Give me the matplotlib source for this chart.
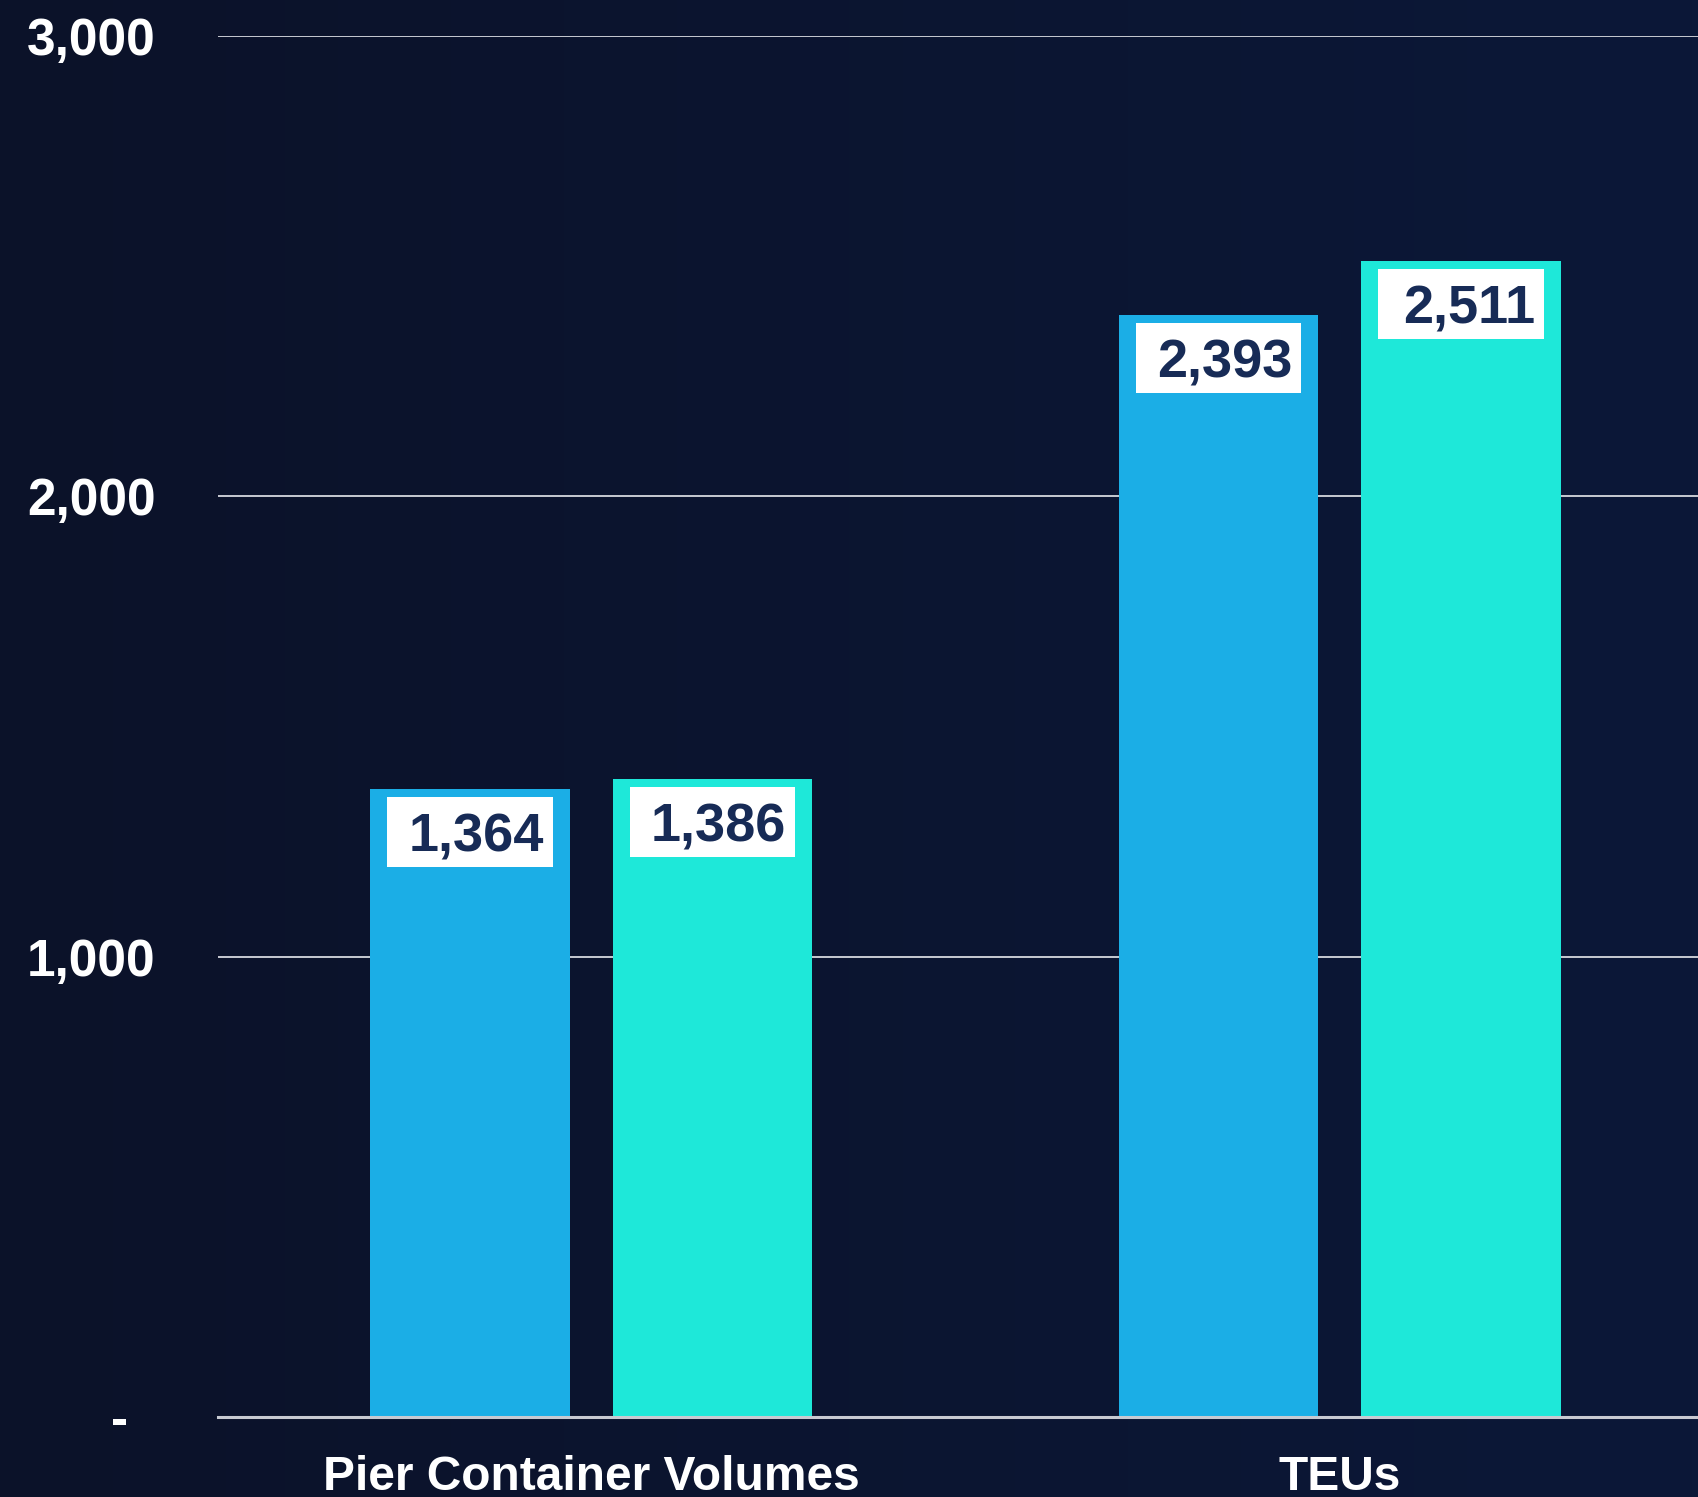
import matplotlib
matplotlib.use("Agg")
import matplotlib.pyplot as plt
from matplotlib.patches import Rectangle
from matplotlib.transforms import ScaledTranslation
import numpy as np

categories = ["Pier Container Volumes", "TEUs"]
series_a = [1364, 2393]
series_b = [1386, 2511]
yticks = [0, 1000, 2000, 3000]
ytick_labels = ["-", "1,000", "2,000", "3,000"]

BG = "#0b1229"
C_A = "#1baee6"
C_B = "#1ee8d9"
LBL = "#172b56"
FONT = "Liberation Sans"

fig = plt.figure(figsize=(16.99, 14.97), dpi=100, facecolor=BG)
ax = fig.add_axes([218/1699, 1-1417/1497, 1-218/1699, (1417-36)/1497])
ax.set_facecolor("none")

# subtle background gradient
grad = np.linspace(0, 1, 256).reshape(1, -1)
bgax = fig.add_axes([0, 0, 1, 1], zorder=-10)
bgax.imshow(np.vstack([grad]*2), aspect="auto",
            cmap=matplotlib.colors.LinearSegmentedColormap.from_list("g", ["#0b1229", "#0b1838"]),
            extent=[0, 1, 0, 1])
bgax.axis("off")

x = np.arange(len(categories))
w = 0.2667
off = 0.162
bars_a = ax.bar(x - off, series_a, w, color=C_A, zorder=3)
bars_b = ax.bar(x + off, series_b, w, color=C_B, zorder=3)

ax.set_xlim(-0.499, 1.48)
ax.set_ylim(0, 3000)

units_per_px = 3000 / (1417 - 36)
xunits_per_px = 1 / 748.2
for bars, vals in ((bars_a, series_a), (bars_b, series_b)):
    for b, v in zip(bars, vals):
        x0 = b.get_x() + 17 * xunits_per_px
        bw = b.get_width() - 34 * xunits_per_px
        top = v - 8 * units_per_px
        h = 70 * units_per_px
        ax.add_patch(Rectangle((x0, top - h), bw, h, facecolor="white", edgecolor="none", zorder=4))
        ax.text(x0 + bw - 9 * xunits_per_px, top - h / 2, f"{v:,}", ha="right", va="center_baseline",
                fontsize=39, fontweight="bold", family=FONT, color=LBL, zorder=5)

ax.set_yticks(yticks)
ax.set_yticklabels(ytick_labels)
ax.yaxis.grid(True, color="#c8cad2", linewidth=1.4, zorder=1)
ax.set_axisbelow(True)
ax.tick_params(axis="y", length=0, pad=45, labelcolor="white", labelsize=37)
for lab in ax.get_yticklabels():
    lab.set_fontfamily(FONT)
    lab.set_fontweight("bold")
zero_lab = ax.get_yticklabels()[0]
zero_lab.set_transform(zero_lab.get_transform() + ScaledTranslation(-0.27, 0.01, fig.dpi_scale_trans))

ax.set_xticks(x)
ax.set_xticklabels(categories)
ax.tick_params(axis="x", length=0, pad=27, labelcolor="white", labelsize=34.5)
for lab in ax.get_xticklabels():
    lab.set_fontfamily(FONT)
    lab.set_fontweight("bold")

for s in ["top", "right", "left"]:
    ax.spines[s].set_visible(False)
ax.spines["bottom"].set_color("#c8cad2")
ax.spines["bottom"].set_linewidth(2.2)
ax.spines["bottom"].set_zorder(6)

fig.savefig("out.png", dpi=100, facecolor=BG)
